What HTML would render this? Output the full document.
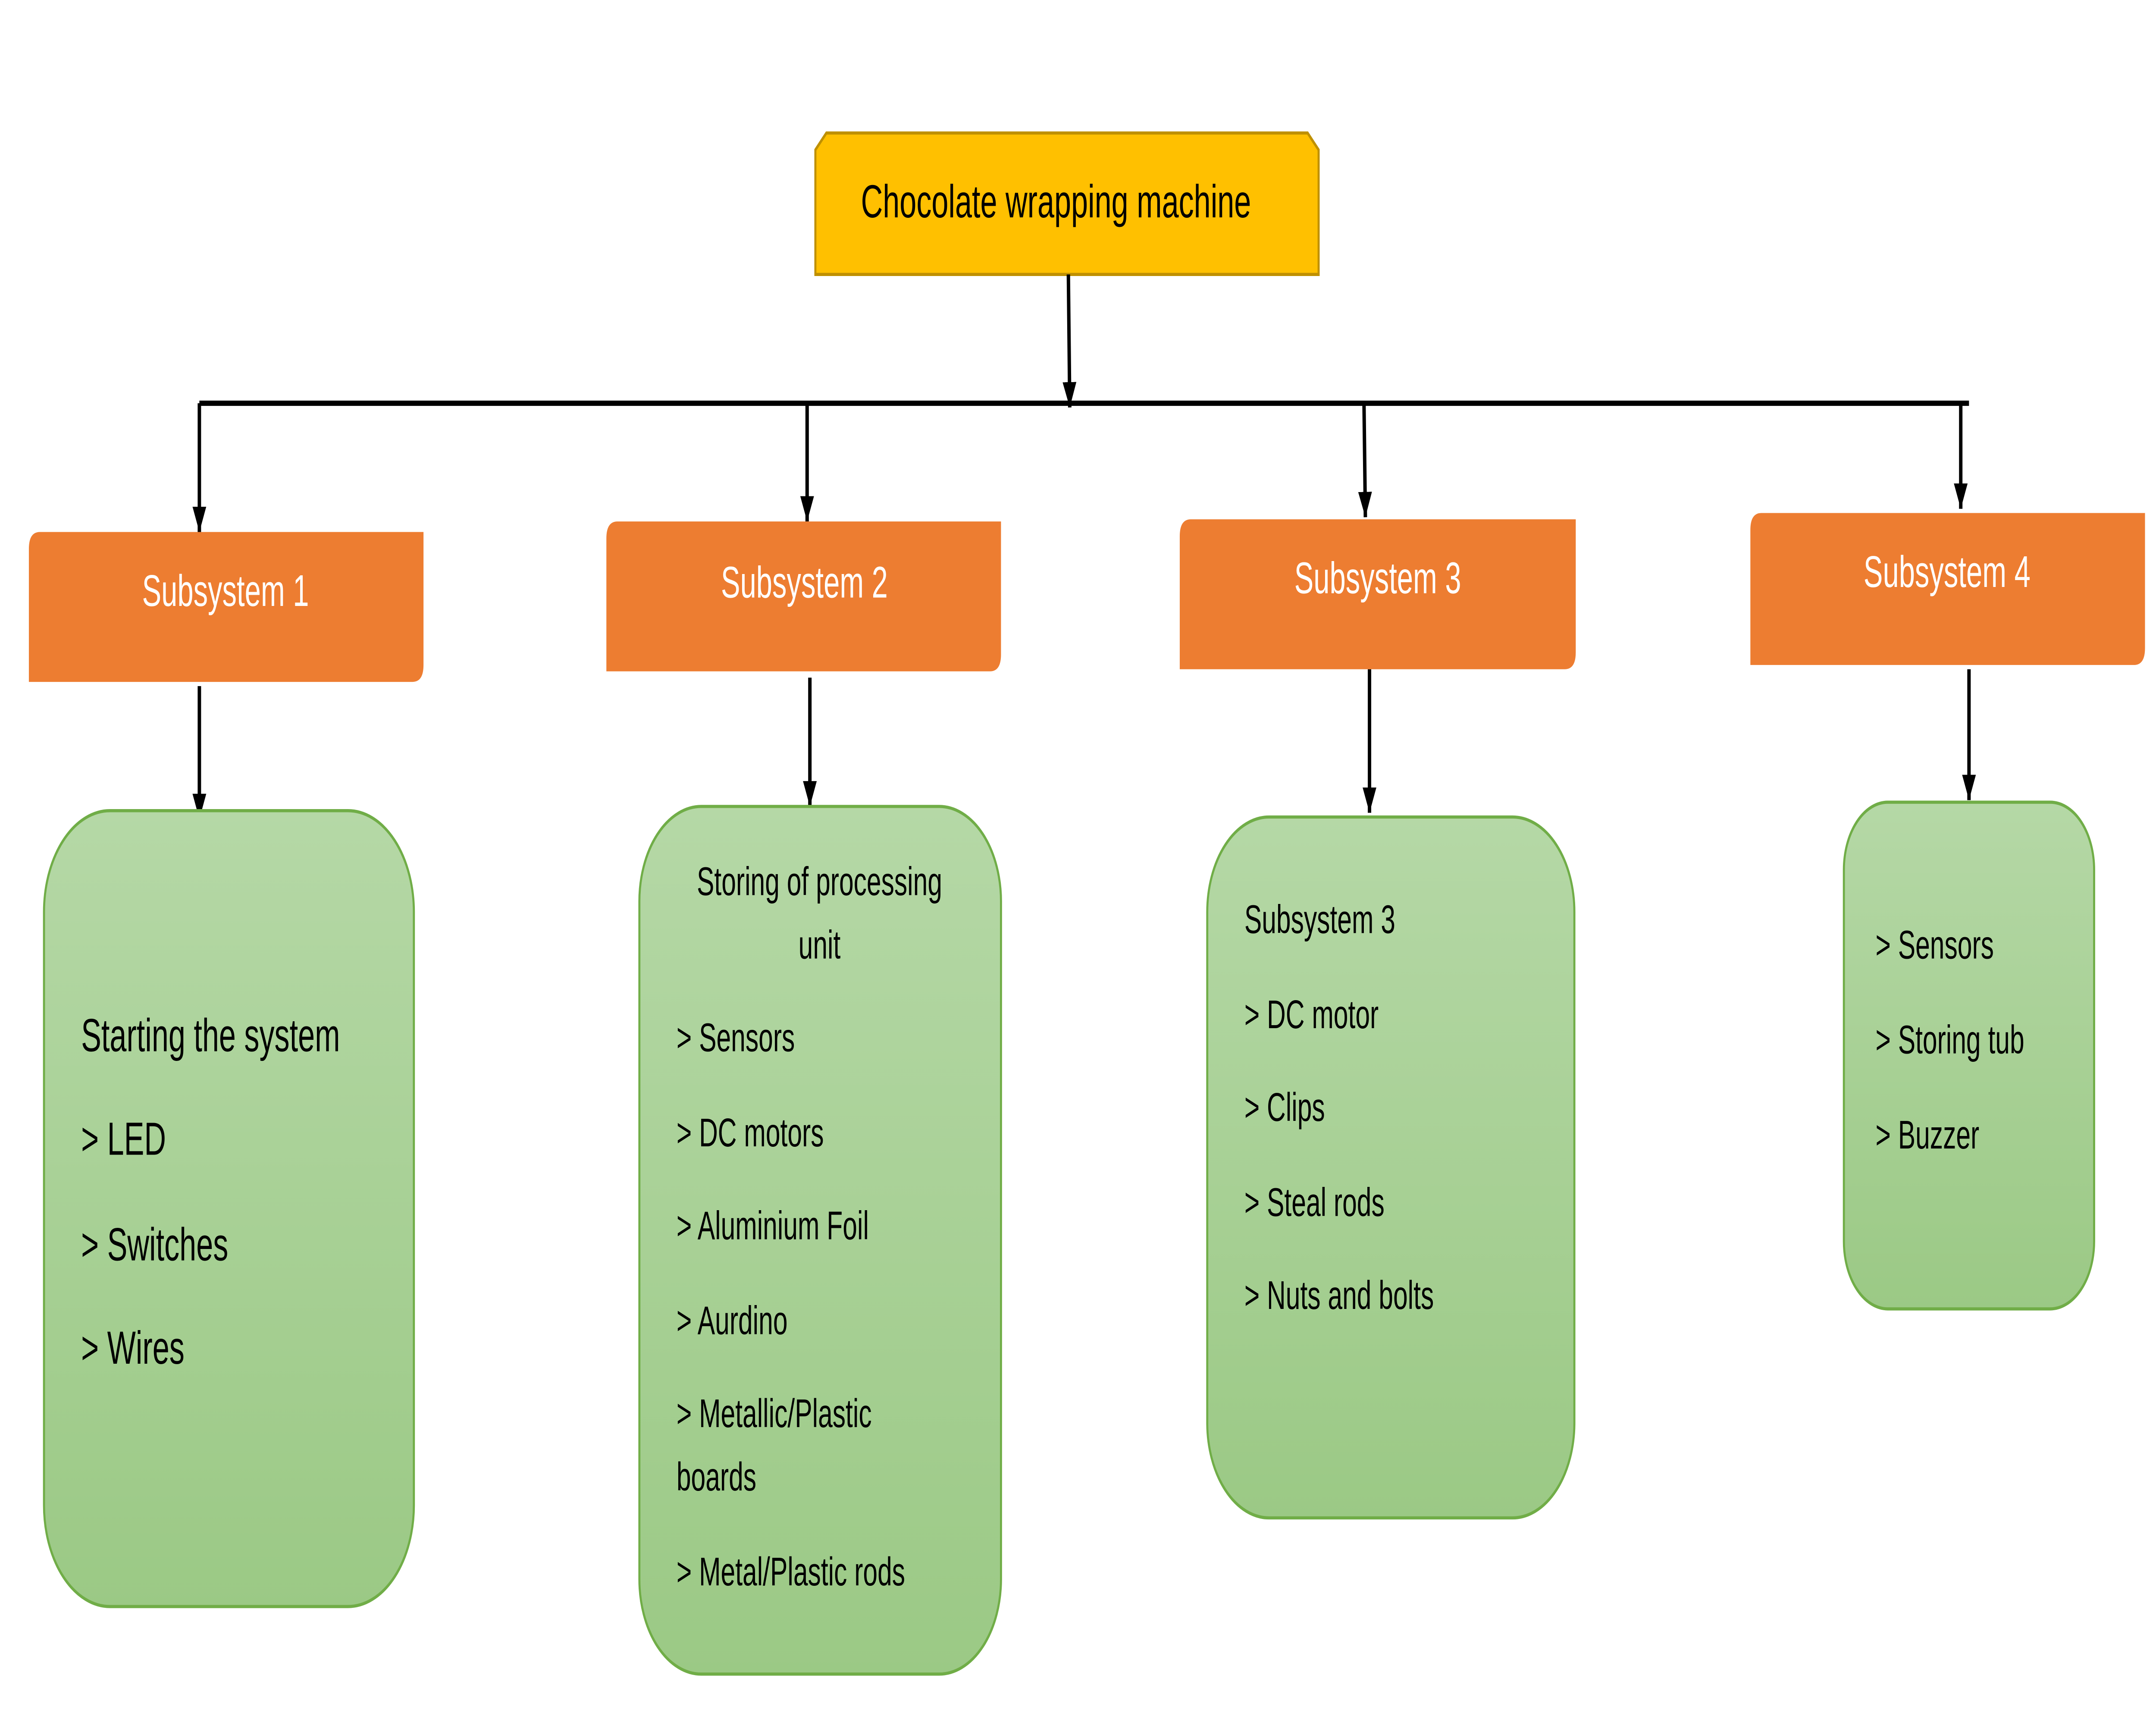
<!DOCTYPE html>
<html><head><meta charset="utf-8"><style>
html,body{margin:0;padding:0;background:#fff;width:100vw;height:100vh;overflow:hidden;}
svg{display:block;width:100vw;height:100vh;}
text{font-family:"Liberation Sans",sans-serif;}
</style></head><body>
<svg viewBox="0 0 1568 819" preserveAspectRatio="none" xmlns="http://www.w3.org/2000/svg">
<defs>
<linearGradient id="g" x1="0" y1="0" x2="0" y2="1"><stop offset="0" stop-color="#B5D8A6"/><stop offset="1" stop-color="#9BC985"/></linearGradient>
<marker id="a" markerWidth="12" markerHeight="10" refX="12" refY="5" orient="auto" markerUnits="userSpaceOnUse" viewBox="0 0 12 10"><path d="M0,0 L12,5 L0,10 Z" fill="#000"/></marker>
</defs>
<rect width="1568" height="819" fill="#fff"/>
<path d="M601,63 L951,63 L959,71 L959,130 L593,130 L593,71 Z" fill="#FFC000" stroke="#BF9000" stroke-width="1.5"/>
<text x="768" y="103" font-size="22" text-anchor="middle" fill="#000">Chocolate wrapping machine</text>
<g stroke="#000" stroke-width="2.5" fill="none">
<line x1="777" y1="130" x2="778" y2="193" marker-end="url(#a)"/>
<line x1="145" y1="191" x2="1432" y2="191"/>
<line x1="145" y1="191" x2="145" y2="252" marker-end="url(#a)"/>
<line x1="587" y1="191" x2="587" y2="247" marker-end="url(#a)"/>
<line x1="992" y1="191" x2="993" y2="245" marker-end="url(#a)"/>
<line x1="1426" y1="191" x2="1426" y2="241" marker-end="url(#a)"/>
<line x1="145" y1="325" x2="145" y2="388" marker-end="url(#a)"/>
<line x1="589" y1="321" x2="589" y2="382" marker-end="url(#a)"/>
<line x1="996" y1="317" x2="996" y2="385" marker-end="url(#a)"/>
<line x1="1432" y1="317" x2="1432" y2="379" marker-end="url(#a)"/>
</g>
<g fill="#ED7D31">
<path d="M29,252 H308 V315 Q308,323 300,323 H21 V260 Q21,252 29,252 Z"/>
<path d="M449,247 H728 V310 Q728,318 720,318 H441 V255 Q441,247 449,247 Z"/>
<path d="M866,246 H1146 V309 Q1146,317 1138,317 H858 V254 Q858,246 866,246 Z"/>
<path d="M1281,243 H1560 V307 Q1560,315 1552,315 H1273 V251 Q1273,243 1281,243 Z"/>
</g>
<g fill="#fff" font-size="21" text-anchor="middle">
<text x="164" y="287">Subsystem 1</text>
<text x="585" y="283">Subsystem 2</text>
<text x="1002" y="281">Subsystem 3</text>
<text x="1416" y="278">Subsystem 4</text>
</g>
<g fill="url(#g)" stroke="#70AD47" stroke-width="1.5">
<rect x="32" y="384" width="269" height="377" rx="48"/>
<rect x="465" y="382" width="263" height="411" rx="45"/>
<rect x="878" y="387" width="267" height="332" rx="45"/>
<rect x="1341" y="380" width="182" height="240" rx="32"/>
</g>
<g fill="#000" font-size="22">
<text x="59" y="498">Starting the system</text>
<text x="59" y="547">&gt; LED</text>
<text x="59" y="597">&gt; Switches</text>
<text x="59" y="646">&gt; Wires</text>
</g>
<g fill="#000" font-size="19">
<text x="596" y="424" text-anchor="middle">Storing of processing</text>
<text x="596" y="454" text-anchor="middle">unit</text>
<text x="492" y="498">&gt; Sensors</text>
<text x="492" y="543">&gt; DC motors</text>
<text x="492" y="587">&gt; Aluminium Foil</text>
<text x="492" y="632">&gt; Aurdino</text>
<text x="492" y="676">&gt; Metallic/Plastic</text>
<text x="492" y="706">boards</text>
<text x="492" y="751">&gt; Metal/Plastic rods</text>
<text x="905" y="442">Subsystem 3</text>
<text x="905" y="487">&gt; DC motor</text>
<text x="905" y="531">&gt; Clips</text>
<text x="905" y="576">&gt; Steal rods</text>
<text x="905" y="620">&gt; Nuts and bolts</text>
<text x="1364" y="454">&gt; Sensors</text>
<text x="1364" y="499">&gt; Storing tub</text>
<text x="1364" y="544">&gt; Buzzer</text>
</g>
</svg>
</body></html>
